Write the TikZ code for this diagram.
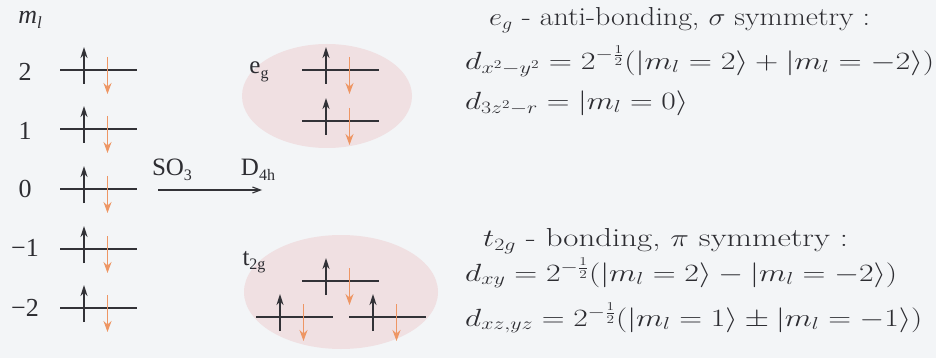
\documentclass[tikz,border=0pt]{standalone}
\usepackage{fontspec}
\usepackage{graphicx}
\newfontfamily\timesf{Liberation Serif}
\usetikzlibrary{arrows.meta}
\definecolor{bgc}{RGB}{243,245,247}
\definecolor{blobc}{RGB}{240,224,226}
\definecolor{dnc}{RGB}{238,150,100}
\definecolor{upc}{RGB}{50,50,55}
\definecolor{txc}{RGB}{45,45,50}
\tikzset{
  lbl/.style={font=\timesf\fontsize{26}{28}\selectfont, text=txc, inner sep=0pt},
  sym/.style={font=\timesf\fontsize{25}{28}\selectfont, text=txc, inner sep=0pt},
  mtx/.style={font=\fontsize{26}{30}\selectfont, text=txc, inner sep=0pt, anchor=west},
  blob/.style={fill=blobc, draw=none},
  lvl/.pic={
    \draw[upc, line width=1.3pt] (-38.5,0) -- (38.5,0);
    \draw[upc, line width=1.9pt, -{Stealth[length=11pt,width=7pt]}] (-14.5,14) -- (-14.5,-23);
    \draw[dnc, line width=1.5pt, -{Stealth[length=11pt,width=8pt]}] (9,-13) -- (9,24);
  }
}
\newcommand\wfit[2]{\resizebox{#1pt}{\height}{#2}}
\begin{document}
\begin{tikzpicture}[x=1pt,y=-1pt]
\fill[bgc] (0,0) rectangle (936,358);
\useasboundingbox (0,0) rectangle (936,358);
% blobs
\fill[blob] (327,96) ellipse [x radius=85, y radius=52];
\fill[blob] (341,292) ellipse [x radius=97, y radius=57];
% left column
\node[lbl, font=\timesf\itshape\fontsize{26}{28}\selectfont] (ml) at (30,20) {m\raisebox{-0.4ex}{\fontsize{17}{18}\selectfont l}};
\node[lbl] (n2) at (25,72) {2};
\node[lbl] (n1) at (25,131) {1};
\node[lbl] (n0) at (25,189) {0};
\node[lbl] (nm1) at (25,248) {\symbol{"2212}1};
\node[lbl] (nm2) at (25,308) {\symbol{"2212}2};
\pic at (98.5,70) {lvl};
\pic at (98.5,129) {lvl};
\pic at (98.5,189) {lvl};
\pic at (98.5,249) {lvl};
\pic at (98.5,308) {lvl};
% arrow
\coordinate (as) at (158,190);
\coordinate (ae) at (262,190);
\draw[upc, line width=1.1pt, -{Straight Barb[length=8pt,width=6pt]}] (as) -- (ae);
\node[sym] (so3) at (172,170) {SO\raisebox{-0.4ex}{\fontsize{16}{17}\selectfont 3}};
\node[sym] (d4h) at (258,170) {D\raisebox{-0.4ex}{\fontsize{16}{17}\selectfont 4h}};
% eg
\node[sym] (eg) at (259,72) {e\raisebox{-0.4ex}{\fontsize{16}{17}\selectfont g}};
\pic at (340.5,70) {lvl};
\pic at (340.5,121) {lvl};
% t2g
\node[sym] (t2g) at (254,262) {t\raisebox{-0.4ex}{\fontsize{16}{17}\selectfont 2g}};
\pic at (340.5,281) {lvl};
\pic at (294.5,317) {lvl};
\pic at (387.5,317) {lvl};
% right text
\node[mtx] (r1) at (489,20) {\wfit{381}{$e_g$ - anti-bonding, $\sigma$ symmetry :}};
\node[mtx] (r2) at (465,61) {\wfit{469}{$d_{x^2-y^2}=2^{-\frac{1}{2}}(|m_l=2\rangle+|m_l=-2\rangle)$}};
\node[mtx] (r3) at (465,103) {\wfit{223}{$d_{3z^2-r}=|m_l=0\rangle$}};
\node[mtx] (r4) at (483,241) {\wfit{365}{$t_{2g}$ - bonding, $\pi$ symmetry :}};
\node[mtx] (r5) at (465,273) {\wfit{432}{$d_{xy}=2^{-\frac{1}{2}}(|m_l=2\rangle-|m_l=-2\rangle)$}};
\node[mtx] (r6) at (465,318) {\wfit{457}{$d_{xz,yz}=2^{-\frac{1}{2}}(|m_l=1\rangle\pm|m_l=-1\rangle)$}};
\end{tikzpicture}
\end{document}
